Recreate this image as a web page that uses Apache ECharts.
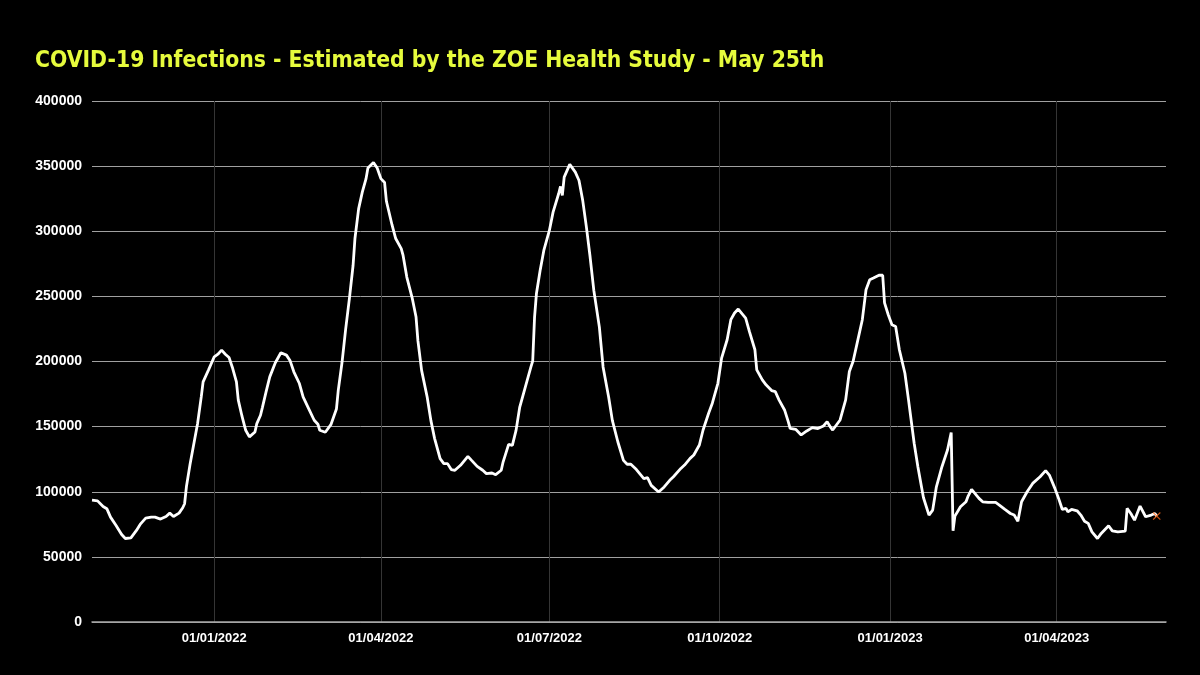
<!DOCTYPE html>
<html>
<head>
<meta charset="utf-8">
<script src="https://cdn.jsdelivr.net/npm/echarts@6/dist/echarts.min.js"></script>
<style>
html,body{margin:0;padding:0;background:#000;}
#chart{width:1200px;height:675px;}
</style>
</head>
<body>
<div id="chart"></div>
<script>
const titleText = 'COVID-19 Infections - Estimated by the ZOE Health Study - May 25th';

const dates = [
 '2021-10-27','2021-10-30','2021-11-02','2021-11-04','2021-11-06','2021-11-09','2021-11-12','2021-11-14','2021-11-17','2021-11-20',
 '2021-11-22','2021-11-25','2021-11-28','2021-11-30','2021-12-03','2021-12-06','2021-12-08','2021-12-10','2021-12-13','2021-12-15',
 '2021-12-16','2021-12-17','2021-12-19','2021-12-21','2021-12-23','2021-12-25','2021-12-26','2021-12-29','2022-01-01','2022-01-03',
 '2022-01-05','2022-01-07','2022-01-09','2022-01-11','2022-01-13','2022-01-14','2022-01-16','2022-01-18','2022-01-20','2022-01-23',
 '2022-01-24','2022-01-26','2022-01-27','2022-01-28','2022-01-29','2022-01-31','2022-02-03','2022-02-06','2022-02-09','2022-02-11',
 '2022-02-13','2022-02-16','2022-02-18','2022-02-21','2022-02-24','2022-02-26','2022-02-27','2022-03-02','2022-03-05','2022-03-08',
 '2022-03-09','2022-03-11','2022-03-13','2022-03-15','2022-03-17','2022-03-18','2022-03-20','2022-03-22','2022-03-24','2022-03-25',
 '2022-03-28','2022-03-30','2022-04-01','2022-04-03','2022-04-04','2022-04-07','2022-04-09','2022-04-12','2022-04-13','2022-04-15',
 '2022-04-18','2022-04-20','2022-04-21','2022-04-23','2022-04-26','2022-04-28','2022-04-30','2022-05-03','2022-05-05','2022-05-07',
 '2022-05-09','2022-05-11','2022-05-14','2022-05-18','2022-05-20','2022-05-23','2022-05-24','2022-05-26','2022-05-28','2022-05-31',
 '2022-06-02','2022-06-05','2022-06-06','2022-06-09','2022-06-11','2022-06-13','2022-06-15','2022-06-18','2022-06-21','2022-06-22',
 '2022-06-23','2022-06-24','2022-06-26','2022-06-28','2022-07-01','2022-07-03','2022-07-06','2022-07-07','2022-07-08','2022-07-09',
 '2022-07-12','2022-07-15','2022-07-17','2022-07-19','2022-07-21','2022-07-23','2022-07-25','2022-07-28','2022-07-30','2022-08-02',
 '2022-08-04','2022-08-07','2022-08-10','2022-08-12','2022-08-14','2022-08-17','2022-08-21','2022-08-23','2022-08-25','2022-08-29',
 '2022-09-01','2022-09-04','2022-09-06','2022-09-10','2022-09-12','2022-09-15','2022-09-17','2022-09-20','2022-09-22','2022-09-25',
 '2022-09-27','2022-09-30','2022-10-02','2022-10-05','2022-10-07','2022-10-09','2022-10-11','2022-10-13','2022-10-15','2022-10-17',
 '2022-10-20','2022-10-21','2022-10-24','2022-10-26','2022-10-29','2022-10-31','2022-11-02','2022-11-05','2022-11-07','2022-11-08',
 '2022-11-11','2022-11-14','2022-11-17','2022-11-20','2022-11-23','2022-11-26','2022-11-28','2022-11-30','2022-12-01','2022-12-05',
 '2022-12-08','2022-12-10','2022-12-12','2022-12-14','2022-12-17','2022-12-19','2022-12-21','2022-12-23','2022-12-26','2022-12-28',
 '2022-12-29','2022-12-31','2023-01-02','2023-01-04','2023-01-06','2023-01-09','2023-01-11','2023-01-12','2023-01-14','2023-01-16',
 '2023-01-19','2023-01-22','2023-01-24','2023-01-26','2023-01-29','2023-02-01','2023-02-03','2023-02-04','2023-02-05','2023-02-08',
 '2023-02-11','2023-02-12','2023-02-14','2023-02-15','2023-02-18','2023-02-20','2023-02-23','2023-02-27','2023-03-01','2023-03-04',
 '2023-03-07','2023-03-09','2023-03-11','2023-03-13','2023-03-16','2023-03-19','2023-03-23','2023-03-26','2023-03-28','2023-03-31',
 '2023-04-02','2023-04-04','2023-04-06','2023-04-07','2023-04-09','2023-04-12','2023-04-14','2023-04-16','2023-04-18','2023-04-20',
 '2023-04-23','2023-04-25','2023-04-29','2023-05-01','2023-05-04','2023-05-08','2023-05-09','2023-05-11','2023-05-13','2023-05-16',
 '2023-05-19','2023-05-22','2023-05-24','2023-05-25'
];

const infections = [
 93500,93000,88700,87000,80500,74100,67200,64100,64600,70300,
 74900,79700,80500,80500,79000,81000,83600,81000,83600,87700,
 90800,104000,121500,136900,152300,172800,184400,193800,203600,205600,
 208700,205600,203100,194600,184400,170300,158000,147200,142100,145900,
 152300,158700,164600,164600,176700,188200,199000,206700,204900,200500,
 192100,183100,172800,163800,154900,151800,147200,145700,151500,163500,
 178000,199000,225000,248300,273900,294400,317400,330200,340400,348600,
 352700,348600,340400,337500,323000,305000,294400,286700,281400,264800,
 248200,234100,216000,193200,172700,154800,141000,125400,121600,121600,
 117000,116500,120300,127200,124100,119500,119500,116500,113900,114400,
 113100,116500,122800,136400,135600,147100,165000,180400,195700,200400,
 234100,252000,269900,285300,300600,314700,328800,334400,327500,341600,
 351300,345400,339000,323700,303200,280200,254600,226400,195800,172700,
 154800,138200,124100,121100,121100,117000,110100,110800,104900,99800,
 103700,108800,111500,117900,120500,125600,128200,135900,147400,160300,
 168000,183300,202600,216700,232100,237200,240300,236700,233300,223100,
 209000,193600,185900,182100,177700,176900,170500,162800,153800,148700,
 147900,143600,146700,149200,148500,150500,153800,149200,147400,155100,
 170500,192300,200000,212800,232100,255100,262800,264100,266200,266200,
 245000,235900,228200,226900,209000,191000,170000,170000,137200,119200,
 95600,82100,85900,103800,119200,132100,145400,70000,81300,88500,
 92300,96200,101800,101800,94900,92300,91800,91800,89800,86400,
 83300,82100,77400,92300,100000,106400,111500,116200,112800,102600,
 94900,86400,87200,84600,86400,85400,82100,77400,75700,69200,
 64100,68000,73900,70000,69200,69700,87200,83300,78200,89000,
 80800,82100,83300,81300
];

const xTickDates = ['2022-01-01','2022-04-01','2022-07-01','2022-10-01','2023-01-01','2023-04-01'];
const xMinDate = '2021-10-27';
const xMaxDate = '2023-05-30';
const yTicks = [0, 50000, 100000, 150000, 200000, 250000, 300000, 350000, 400000];

function ts(s) { const p = s.split('-').map(Number); return Date.UTC(p[0], p[1] - 1, p[2]); }
function pad(n) { return (n < 10 ? '0' : '') + n; }

const seriesData = dates.map((d, i) => [ts(d), infections[i]]);
const lastPoint = seriesData[seriesData.length - 1];
const tickValues = xTickDates.map(ts);

const chart = echarts.init(document.getElementById('chart'), null, { renderer: 'canvas' });
chart.setOption({
  backgroundColor: '#000000',
  animation: false,
  title: {
    text: titleText,
    left: 30,
    top: 45,
    textStyle: { color: '#e6fb3c', fontSize: 22.7, fontWeight: 'bold', fontFamily: "'DejaVu Sans Condensed', 'DejaVu Sans', sans-serif" }
  },
  grid: { left: 92, right: 34, top: 101, bottom: 53, containLabel: false },
  xAxis: {
    type: 'value',
    min: ts(xMinDate),
    max: ts(xMaxDate),
    axisLine: { show: true, lineStyle: { color: '#a8a8a8', width: 1.5 } },
    axisTick: { show: false, customValues: tickValues },
    axisLabel: {
      customValues: tickValues,
      color: '#ffffff',
      fontSize: 13,
      fontWeight: 'bold',
      fontFamily: "'Liberation Sans', Arial, sans-serif",
      margin: 10,
      formatter: function (v) { const d = new Date(v); return pad(d.getUTCDate()) + '/' + pad(d.getUTCMonth() + 1) + '/' + d.getUTCFullYear(); }
    },
    splitLine: { show: true, lineStyle: { color: '#353535', width: 1 } }
  },
  yAxis: {
    type: 'value',
    min: yTicks[0],
    max: yTicks[yTicks.length - 1],
    interval: 50000,
    axisLine: { show: false },
    axisTick: { show: false },
    axisLabel: {
      color: '#ffffff',
      fontSize: 14,
      fontWeight: 'bold',
      fontFamily: "'Liberation Sans', Arial, sans-serif",
      margin: 10,
      formatter: function (v) { return String(v); }
    },
    splitLine: { show: true, lineStyle: { color: '#a0a0a0', width: 1 } }
  },
  series: [
    {
      type: 'line',
      data: seriesData,
      showSymbol: false,
      symbol: 'none',
      lineStyle: { color: '#ffffff', width: 2.8 },
      z: 3
    },
    {
      type: 'scatter',
      data: [lastPoint],
      symbol: 'path://M0,1 L1,0 L5,4 L9,0 L10,1 L6,5 L10,9 L9,10 L5,6 L1,10 L0,9 L4,5 Z',
      symbolSize: 8,
      itemStyle: { color: '#ff6a1a' },
      z: 4
    }
  ]
});
</script>
</body>
</html>
